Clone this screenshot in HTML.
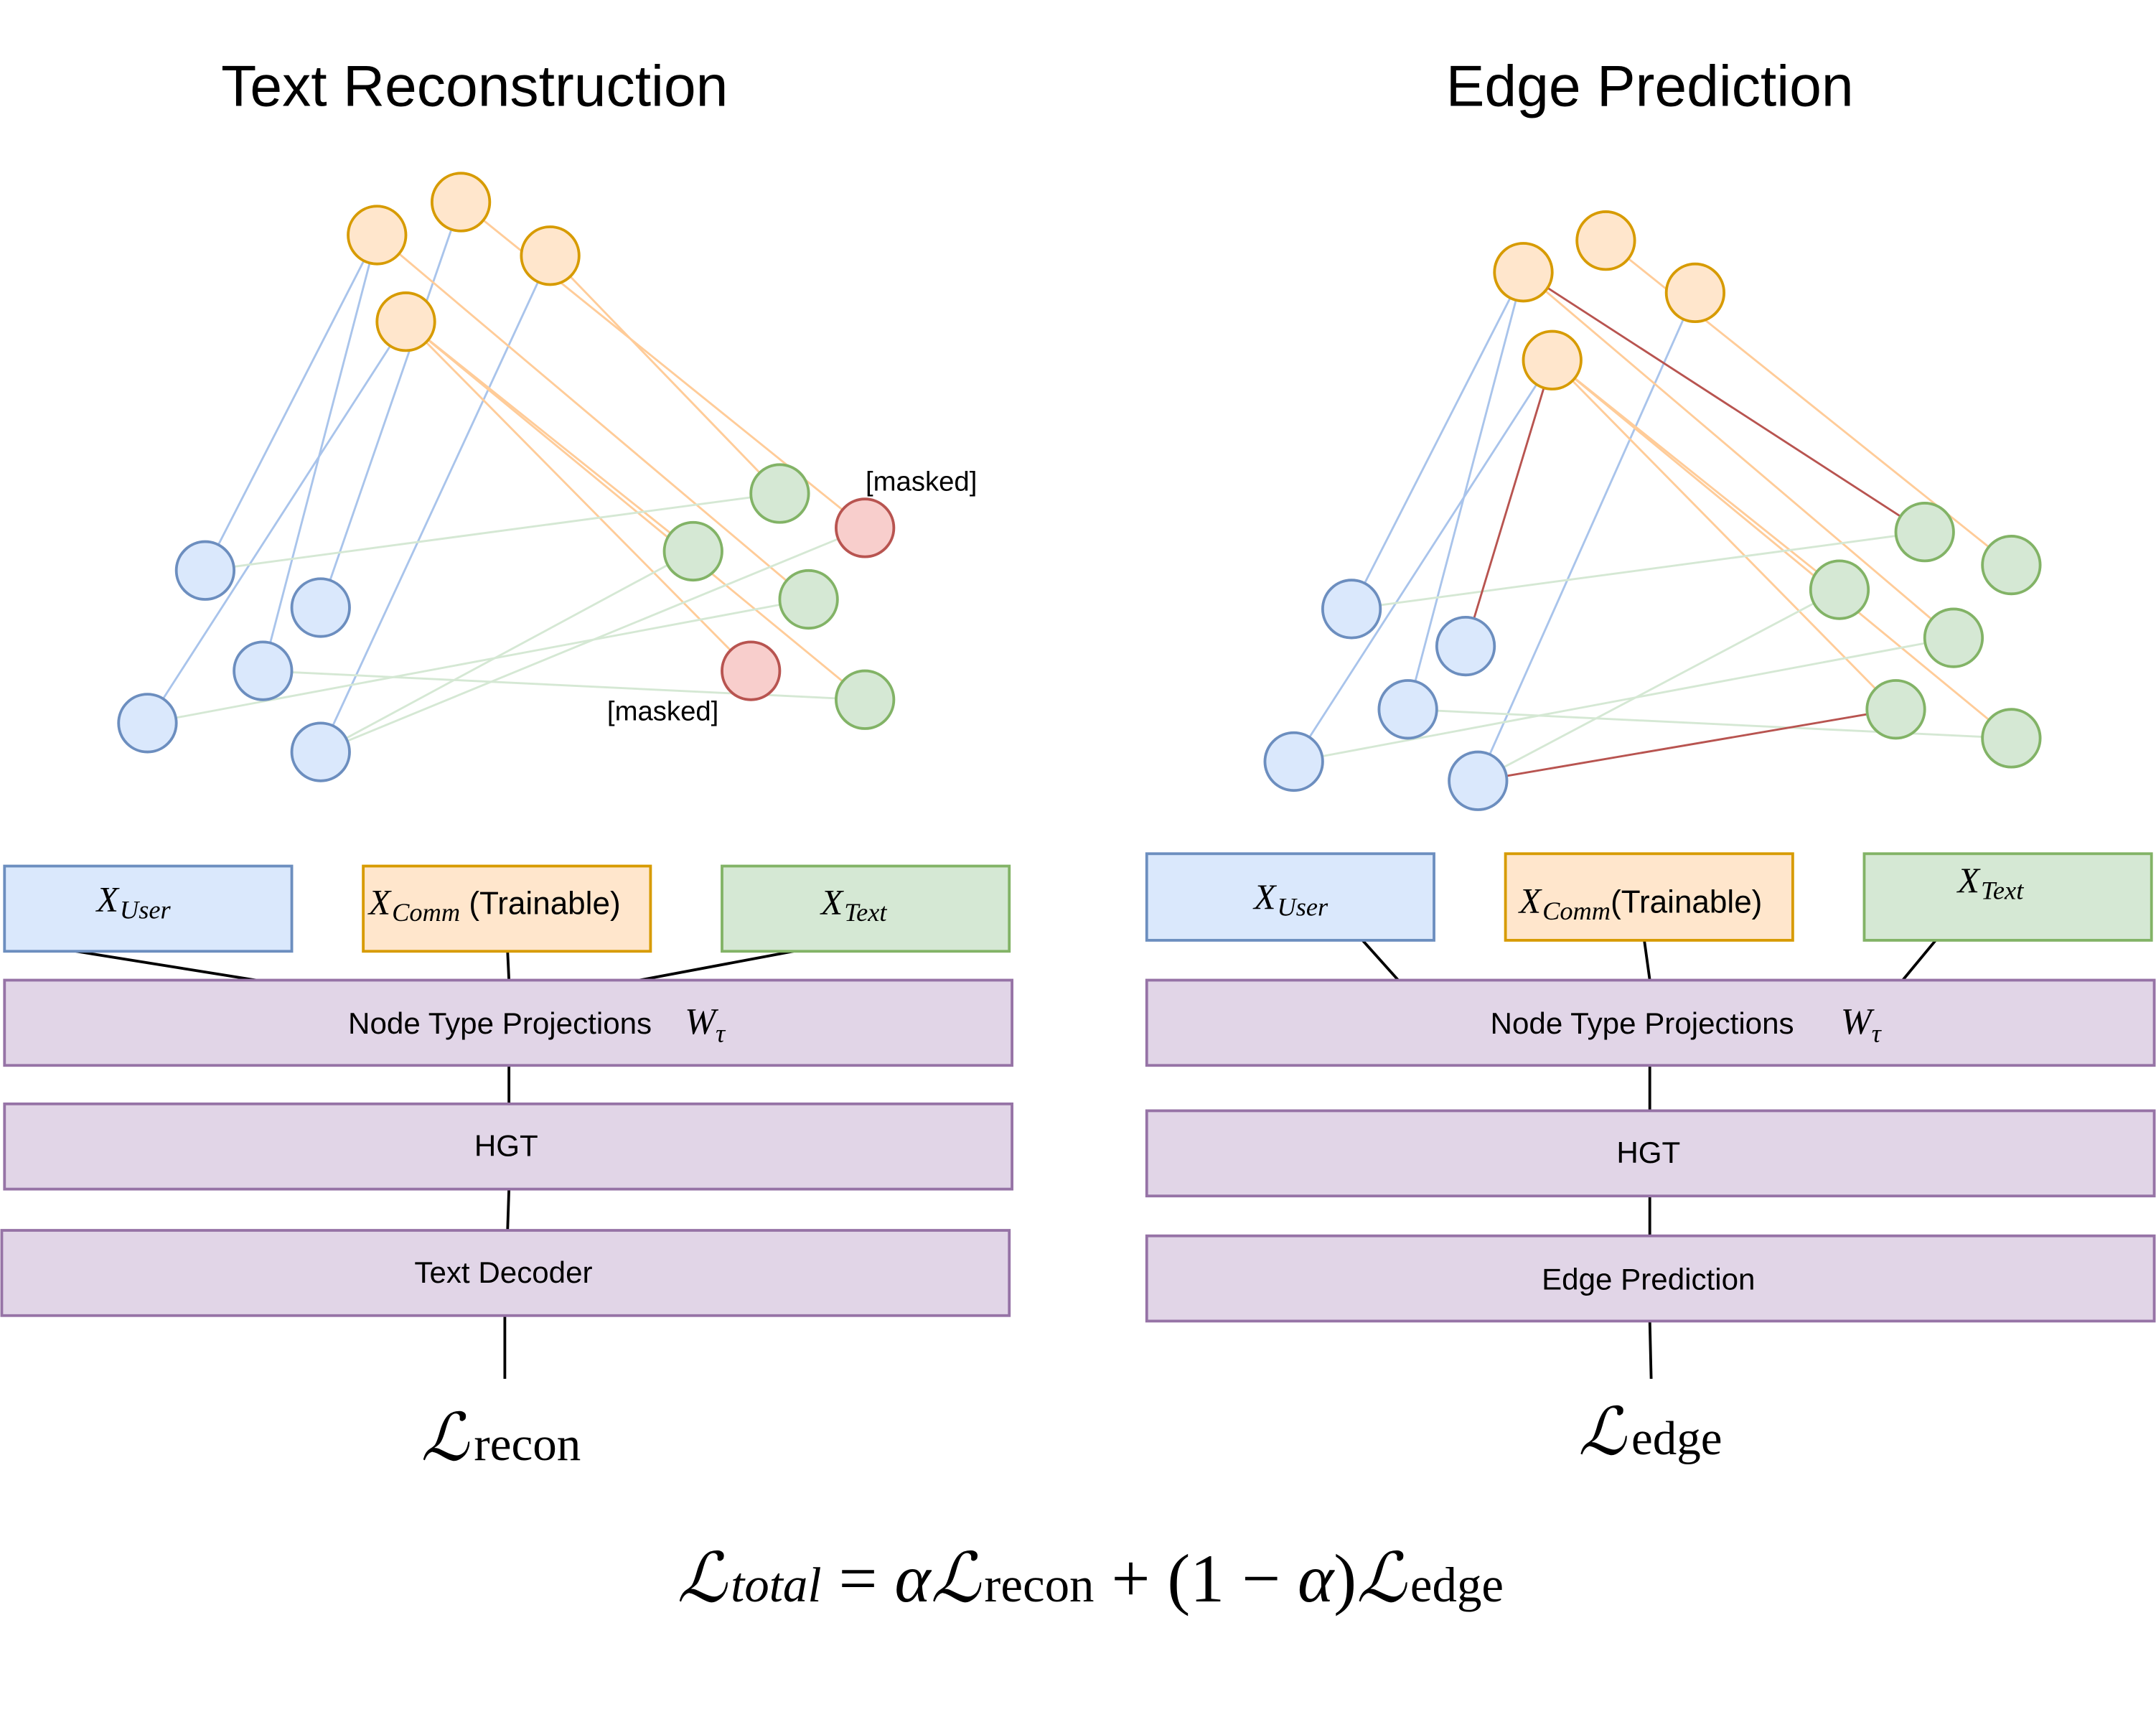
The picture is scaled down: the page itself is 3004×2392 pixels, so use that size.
<!DOCTYPE html>
<html><head><meta charset="utf-8"><style>
html,body{margin:0;padding:0;background:#fff;}
svg{display:block;}
.t{font-family:"Liberation Sans",sans-serif;}
.m{font-family:"Liberation Serif",serif;font-style:italic;}
</style></head><body>
<svg width="3004" height="2392" viewBox="0 0 1568 1249" xmlns="http://www.w3.org/2000/svg">
<rect width="1568" height="1249" fill="#fff"/>
<text class="t" x="345" y="77" font-size="42" text-anchor="middle">Text Reconstruction</text>
<text class="t" x="1200" y="77" font-size="42" text-anchor="middle">Edge Prediction</text>

<!-- LEFT GRAPH -->
<g stroke-width="1.5" fill="none">
<g stroke="#a9c4eb">
<line x1="274" y1="171" x2="149" y2="415"/>
<line x1="274" y1="171" x2="191" y2="488"/>
<line x1="335" y1="147" x2="233" y2="442"/>
<line x1="295" y1="234" x2="107" y2="526"/>
<line x1="400" y1="186" x2="233" y2="547"/>
</g>
<g stroke="#ffcc99">
<line x1="335" y1="147" x2="629" y2="384"/>
<line x1="400" y1="186" x2="567" y2="359"/>
<line x1="295" y1="234" x2="504" y2="401"/>
<line x1="295" y1="234" x2="546" y2="488"/>
<line x1="274" y1="171" x2="588" y2="436"/>
<line x1="295" y1="234" x2="629" y2="509"/>
</g>
<g stroke="#d5e8d4">
<line x1="149" y1="415" x2="567" y2="359"/>
<line x1="107" y1="526" x2="588" y2="436"/>
<line x1="191" y1="488" x2="629" y2="509"/>
<line x1="233" y1="547" x2="504" y2="401"/>
<line x1="233" y1="547" x2="629" y2="384"/>
</g>
</g>
<g stroke-width="2">
<g fill="#ffe6cc" stroke="#d79b00">
<circle cx="274" cy="171" r="21"/><circle cx="335" cy="147" r="21"/><circle cx="400" cy="186" r="21"/><circle cx="295" cy="234" r="21"/>
</g>
<g fill="#dae8fc" stroke="#6c8ebf">
<circle cx="149" cy="415" r="21"/><circle cx="233" cy="442" r="21"/><circle cx="191" cy="488" r="21"/><circle cx="107" cy="526" r="21"/><circle cx="233" cy="547" r="21"/>
</g>
<g fill="#d5e8d4" stroke="#82b366">
<circle cx="567" cy="359" r="21"/><circle cx="504" cy="401" r="21"/><circle cx="588" cy="436" r="21"/><circle cx="629" cy="509" r="21"/>
</g>
<g fill="#f8cecc" stroke="#b85450">
<circle cx="629" cy="384" r="21"/><circle cx="546" cy="488" r="21"/>
</g>
</g>
<text class="t" x="670" y="357" font-size="20" text-anchor="middle">[masked]</text>
<text class="t" x="482" y="524" font-size="20" text-anchor="middle">[masked]</text>

<!-- RIGHT GRAPH -->
<g stroke-width="1.5" fill="none">
<g stroke="#a9c4eb">
<line x1="1108" y1="198" x2="983" y2="443"/>
<line x1="1108" y1="198" x2="1024" y2="516"/>
<line x1="1129" y1="262" x2="941" y2="554"/>
<line x1="1233" y1="213" x2="1075" y2="568"/>
</g>
<g stroke="#ffcc99">
<line x1="1168" y1="175" x2="1463" y2="411"/>
<line x1="1108" y1="198" x2="1421" y2="464"/>
<line x1="1129" y1="262" x2="1338" y2="429"/>
<line x1="1129" y1="262" x2="1379" y2="516"/>
<line x1="1129" y1="262" x2="1463" y2="537"/>
</g>
<g stroke="#d5e8d4">
<line x1="983" y1="443" x2="1400" y2="387"/>
<line x1="941" y1="554" x2="1421" y2="464"/>
<line x1="1024" y1="516" x2="1463" y2="537"/>
<line x1="1075" y1="568" x2="1338" y2="429"/>
</g>
<g stroke="#b85450">
<line x1="1108" y1="198" x2="1400" y2="387"/>
<line x1="1129" y1="262" x2="1066" y2="470"/>
<line x1="1075" y1="568" x2="1379" y2="516"/>
</g>
</g>
<g stroke-width="2">
<g fill="#ffe6cc" stroke="#d79b00">
<circle cx="1108" cy="198" r="21"/><circle cx="1168" cy="175" r="21"/><circle cx="1233" cy="213" r="21"/><circle cx="1129" cy="262" r="21"/>
</g>
<g fill="#dae8fc" stroke="#6c8ebf">
<circle cx="983" cy="443" r="21"/><circle cx="1066" cy="470" r="21"/><circle cx="1024" cy="516" r="21"/><circle cx="941" cy="554" r="21"/><circle cx="1075" cy="568" r="21"/>
</g>
<g fill="#d5e8d4" stroke="#82b366">
<circle cx="1400" cy="387" r="21"/><circle cx="1463" cy="411" r="21"/><circle cx="1338" cy="429" r="21"/><circle cx="1421" cy="464" r="21"/><circle cx="1379" cy="516" r="21"/><circle cx="1463" cy="537" r="21"/>
</g>
</g>

<g stroke="#000" stroke-width="2">
<line x1="55" y1="692" x2="186" y2="713"/>
<line x1="369" y1="692" x2="370" y2="713"/>
<line x1="577" y1="692" x2="465" y2="713"/>
<line x1="370" y1="775" x2="370" y2="803"/>
<line x1="370" y1="865" x2="369" y2="895"/>
<line x1="367" y1="957" x2="367" y2="1003"/>
<line x1="991" y1="684" x2="1017" y2="713"/>
<line x1="1196" y1="684" x2="1200" y2="713"/>
<line x1="1408" y1="684" x2="1384" y2="713"/>
<line x1="1200" y1="775" x2="1200" y2="808"/>
<line x1="1200" y1="870" x2="1200" y2="899"/>
<line x1="1200" y1="961" x2="1201" y2="1003"/>
</g>
<g stroke-width="2">
<rect x="3" y="630" width="209" height="62" fill="#dae8fc" stroke="#6c8ebf"/>
<rect x="264" y="630" width="209" height="62" fill="#ffe6cc" stroke="#d79b00"/>
<rect x="525" y="630" width="209" height="62" fill="#d5e8d4" stroke="#82b366"/>
<rect x="3" y="713" width="733" height="62" fill="#e1d5e7" stroke="#9673a6"/>
<rect x="3" y="803" width="733" height="62" fill="#e1d5e7" stroke="#9673a6"/>
<rect x="1" y="895" width="733" height="62" fill="#e1d5e7" stroke="#9673a6"/>
<rect x="834" y="621" width="209" height="63" fill="#dae8fc" stroke="#6c8ebf"/>
<rect x="1095" y="621" width="209" height="63" fill="#ffe6cc" stroke="#d79b00"/>
<rect x="1356" y="621" width="209" height="63" fill="#d5e8d4" stroke="#82b366"/>
<rect x="834" y="713" width="733" height="62" fill="#e1d5e7" stroke="#9673a6"/>
<rect x="834" y="808" width="733" height="62" fill="#e1d5e7" stroke="#9673a6"/>
<rect x="834" y="899" width="733" height="62" fill="#e1d5e7" stroke="#9673a6"/>
</g>

<text class="m" x="70" y="663" font-size="26">X<tspan font-size="19" dy="5" dx="1">User</tspan></text>
<text x="268" y="665" font-size="23"><tspan class="m" font-size="26">X</tspan><tspan class="m" font-size="19" dy="5" dx="1">Comm</tspan><tspan class="t" dy="-5"> (Trainable)</tspan></text>
<text class="m" x="597" y="665" font-size="26">X<tspan font-size="19" dy="5" dx="1">Text</tspan></text>
<text x="253" y="752" font-size="22"><tspan class="t">Node Type Projections</tspan><tspan class="m" font-size="27" dx="24">W</tspan><tspan class="m" font-size="19" dy="6">τ</tspan></text>
<text class="t" x="368" y="841" font-size="22" text-anchor="middle">HGT</text>
<text class="t" x="366" y="933" font-size="22" text-anchor="middle">Text Decoder</text>

<text class="m" x="912" y="661" font-size="26">X<tspan font-size="19" dy="5" dx="1">User</tspan></text>
<text x="1105" y="664" font-size="23"><tspan class="m" font-size="26">X</tspan><tspan class="m" font-size="19" dy="5" dx="1">Comm</tspan><tspan class="t" dy="-5">(Trainable)</tspan></text>
<text class="m" x="1424" y="649" font-size="26">X<tspan font-size="19" dy="5" dx="1">Text</tspan></text>
<text x="1084" y="752" font-size="22"><tspan class="t">Node Type Projections</tspan><tspan class="m" font-size="27" dx="34">W</tspan><tspan class="m" font-size="19" dy="6">τ</tspan></text>
<text class="t" x="1199" y="846" font-size="22" text-anchor="middle">HGT</text>
<text class="t" x="1199" y="938" font-size="22" text-anchor="middle">Edge Prediction</text>

<text x="306" y="1062" font-size="48" font-family="Liberation Serif,serif"><tspan font-style="italic">ℒ</tspan><tspan font-size="35" dx="4">recon</tspan></text>
<text x="1148" y="1058" font-size="48" font-family="Liberation Serif,serif"><tspan font-style="italic">ℒ</tspan><tspan font-size="35" dx="4">edge</tspan></text>

<text x="793" y="1165" font-size="50" font-family="Liberation Serif,serif" text-anchor="middle"><tspan font-style="italic">ℒ</tspan><tspan font-style="italic" font-size="36" dx="3">total</tspan><tspan> = </tspan><tspan font-style="italic">α</tspan><tspan font-style="italic">ℒ</tspan><tspan font-size="36" dx="3">recon</tspan><tspan>  +  (1 − </tspan><tspan font-style="italic">α</tspan><tspan>)</tspan><tspan font-style="italic">ℒ</tspan><tspan font-size="36" dx="3">edge</tspan></text>
</svg>
</body></html>
